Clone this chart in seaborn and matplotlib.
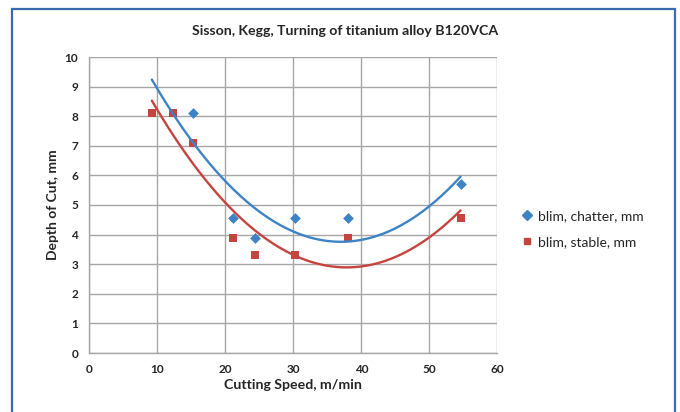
import numpy as np
import pandas as pd
import matplotlib
matplotlib.use("Agg")
import matplotlib.pyplot as plt
from matplotlib.patches import Rectangle
from matplotlib.lines import Line2D
import seaborn as sns

# Cutting speed (m/min) and limiting depth of cut (mm)
speed_chatter = [15.2, 21.2, 24.3, 30.3, 38.0, 54.6]
blim_chatter = [8.1, 4.55, 3.9, 4.55, 4.55, 5.7]
speed_stable = [9.2, 12.3, 15.2, 21.2, 24.3, 30.3, 38.0, 54.6]
blim_stable = [8.1, 8.1, 7.1, 3.9, 3.3, 3.3, 3.9, 4.55]

series_names = ["blim, chatter, mm", "blim, stable, mm"]
x_ticks = [0, 10, 20, 30, 40, 50, 60]
y_ticks = list(range(0, 11))

blue = "#3D83C5"
red = "#C6443F"
grid_c = "#A6A6A6"
text_c = "#262626"

sns.set_theme(style="white")
plt.rcParams["font.family"] = ["Lato", "DejaVu Sans"]

chatter = pd.DataFrame({"speed": speed_chatter, "blim": blim_chatter})
stable = pd.DataFrame({"speed": speed_stable, "blim": blim_stable})

fig = plt.figure(figsize=(6.8, 4.12), dpi=100)
ax = fig.add_axes([89.3 / 680, 1 - 353 / 412, 408 / 680, 296 / 412])

# Second-order polynomial trendlines, drawn across the tested speed range
x_range = np.linspace(min(speed_stable + speed_chatter), max(speed_stable + speed_chatter), 200)
for df, color in [(chatter, blue), (stable, red)]:
    coef = np.polyfit(df["speed"], df["blim"], 2)
    trend = pd.DataFrame({"speed": x_range, "blim": np.polyval(coef, x_range)})
    sns.lineplot(data=trend, x="speed", y="blim", color=color, lw=1.7, ax=ax, zorder=4)

sns.scatterplot(data=chatter, x="speed", y="blim", marker="D", color=blue,
                s=30, linewidth=0, ax=ax, zorder=3)
sns.scatterplot(data=stable, x="speed", y="blim", marker="s", color=red,
                s=32, linewidth=0, ax=ax, zorder=3)

ax.set_xlim(0, 60)
ax.set_ylim(0, 10)
ax.set_xticks(x_ticks)
ax.set_yticks(y_ticks)
ax.grid(True, color=grid_c, lw=1.0)
ax.set_axisbelow(True)
for side in ["top", "right"]:
    ax.spines[side].set_visible(False)
for side in ["left", "bottom"]:
    ax.spines[side].set_color(grid_c)
    ax.spines[side].set_linewidth(1.0)
ax.tick_params(axis="both", direction="out", length=4, width=1.0, color=grid_c,
               labelsize=8.5, labelcolor=text_c, pad=4)
for lab in ax.get_xticklabels() + ax.get_yticklabels():
    lab.set_fontweight("bold")

ax.set_xlabel("Cutting Speed, m/min", fontsize=10.2, fontweight="bold", color=text_c, labelpad=3)
ax.set_ylabel("Depth of Cut, mm", fontsize=10, fontweight="bold", color=text_c, labelpad=4)

fig.text(345 / 680, 1 - 31 / 412, "Sisson, Kegg, Turning of titanium alloy B120VCA",
         ha="center", va="center", fontsize=10.2, fontweight="bold", color=text_c)

handles = [
    Line2D([], [], marker="D", color=blue, ls="none", markersize=5),
    Line2D([], [], marker="s", color=red, ls="none", markersize=5),
]
fig.legend(handles, series_names, loc="center left",
           bbox_to_anchor=(509 / 680, 1 - 229 / 412), frameon=False,
           fontsize=10, handlelength=0.8, handletextpad=0.4, labelspacing=1.05,
           labelcolor=text_c)

# Chart-area border
fig.patches.append(Rectangle((12 / 680, -0.05), (675 - 12) / 680, 1.05 - 9 / 412,
                             transform=fig.transFigure, fill=False,
                             edgecolor="#3A6BAE", lw=1.6))

fig.savefig("out.png", dpi=100)
